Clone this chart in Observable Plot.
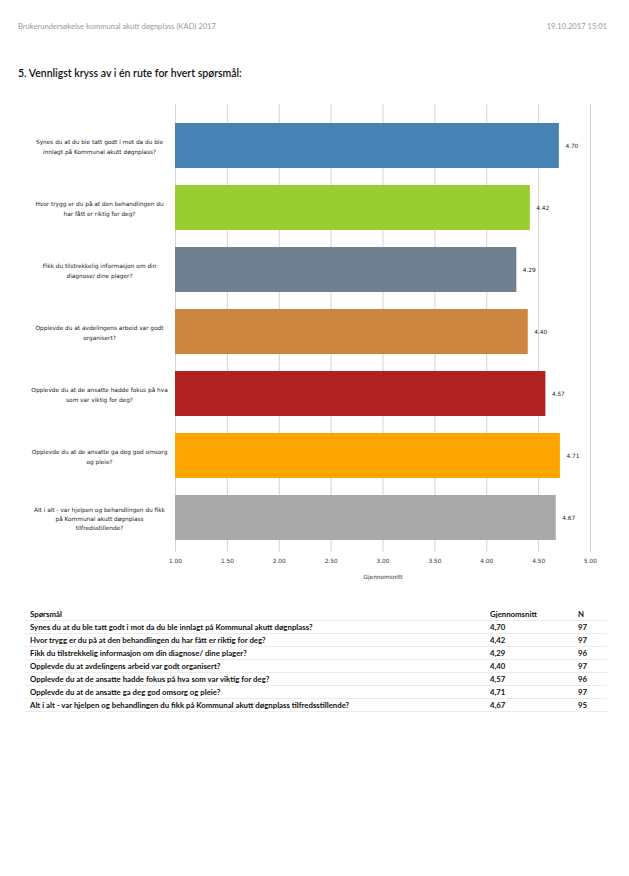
<!DOCTYPE html>
<html>
<head>
<meta charset="utf-8">
<script src="https://cdn.jsdelivr.net/npm/d3@7"></script>
<script src="https://cdn.jsdelivr.net/npm/@observablehq/plot@0.6"></script>
<style>
  html, body { margin: 0; padding: 0; background: #fff; }
  body { width: 629px; height: 876px; position: relative; overflow: hidden; font-family: Lato, "Open Sans", sans-serif; }
  #hdr-left { position: absolute; left: 18px; top: 21px; font-size: 7.6px; color: #9a9a9a; }
  #hdr-right { position: absolute; right: 22px; top: 21px; font-size: 7.6px; color: #9a9a9a; }
  #title { position: absolute; left: 18px; top: 67px; font-size: 10.5px; color: #111; font-weight: 600; }
  #chart { position: absolute; left: 0; top: 100px; }
  #tbl { position: absolute; left: 25px; top: 608px; width: 582px; border-collapse: collapse; font-size: 7.8px; font-weight: 700; color: #111; }
  #tbl td, #tbl th { padding: 0 0 0 5px; height: 12px; line-height: 12px; border-bottom: 1px solid #ececec; text-align: left; font-weight: 700; }
  #tbl td.c2, #tbl th.c2 { width: 88px; }
  #tbl td.c3, #tbl th.c3 { width: 29px; padding-left: 0; }
</style>
</head>
<body>
<div id="hdr-left">Brukerundersøkelse kommunal akutt døgnplass (KAD) 2017</div>
<div id="hdr-right">19.10.2017 15:01</div>
<div id="title">5. Vennligst kryss av i én rute for hvert spørsmål:</div>
<div id="chart"></div>
<table id="tbl"></table>
<script>
const questions = [
  "Synes du at du ble tatt godt i mot da du ble innlagt på Kommunal akutt døgnplass?",
  "Hvor trygg er du på at den behandlingen du har fått er riktig for deg?",
  "Fikk du tilstrekkelig informasjon om din diagnose/ dine plager?",
  "Opplevde du at avdelingens arbeid var godt organisert?",
  "Opplevde du at de ansatte hadde fokus på hva som var viktig for deg?",
  "Opplevde du at de ansatte ga deg god omsorg og pleie?",
  "Alt i alt - var hjelpen og behandlingen du fikk på Kommunal akutt døgnplass tilfredsstillende?"
];
const questionLabels = [
  "Synes du at du ble tatt godt i mot da du ble\ninnlagt på Kommunal akutt døgnplass?",
  "Hvor trygg er du på at den behandlingen du\nhar fått er riktig for deg?",
  "Fikk du tilstrekkelig informasjon om din\ndiagnose/ dine plager?",
  "Opplevde du at avdelingens arbeid var godt\norganisert?",
  "Opplevde du at de ansatte hadde fokus på hva\nsom var viktig for deg?",
  "Opplevde du at de ansatte ga deg god omsorg\nog pleie?",
  "Alt i alt - var hjelpen og behandlingen du fikk\npå Kommunal akutt døgnplass\ntilfredsstillende?"
];
const means = [4.70, 4.42, 4.29, 4.40, 4.57, 4.71, 4.67];
const counts = [97, 97, 96, 97, 96, 97, 95];
const colors = ["#4682B4", "#9ACD32", "#708090", "#CD853F", "#B22222", "#FFA500", "#A9A9A9"];
const xTicks = [1.0, 1.5, 2.0, 2.5, 3.0, 3.5, 4.0, 4.5, 5.0];

const data = questions.map((q, i) => ({q, label: questionLabels[i], mean: means[i], n: counts[i], color: colors[i]}));
const labelOf = new Map(data.map(d => [d.q, d.label]));

const chart = Plot.plot({
  width: 629,
  height: 490,
  marginLeft: 175,
  marginRight: 39,
  marginTop: 11.5,
  marginBottom: 38,
  style: {fontFamily: "'DejaVu Sans', sans-serif", fontSize: "5.8px", color: "#222", background: "#fff"},
  x: {domain: [1, 5]},
  y: {domain: questions, paddingInner: 0.27, paddingOuter: 0.135, axis: null},
  marks: [
    Plot.ruleX(xTicks, {stroke: "#d4d4d4", strokeWidth: 1, insetTop: -8, strokeOpacity: 1}),
    Plot.barX(data, {y: "q", x1: 1, x2: "mean", fill: "color"}),
    Plot.text(data, {y: "q", x: "mean", text: d => d3.format(".2f")(d.mean), textAnchor: "start", dx: 6, fill: "#222"}),
    Plot.text(data, {y: "q", text: d => labelOf.get(d.q), frameAnchor: "left", textAnchor: "middle", dx: -76, lineHeight: 1.6, fill: "#222"}),
    Plot.axisX(xTicks, {tickSize: 0, tickPadding: 6, tickFormat: d3.format(".2f"), label: null, fill: "#333"}),
    Plot.text(["Gjennomsnitt"], {frameAnchor: "bottom", dy: 26, text: d => d, fill: "#333"})
  ]
});
document.getElementById("chart").appendChild(chart);

const tbl = document.getElementById("tbl");
const fmt = v => d3.format(".2f")(v).replace(".", ",");
let html = '<tr><th>Spørsmål</th><th class="c2">Gjennomsnitt</th><th class="c3">N</th></tr>';
data.forEach(d => {
  html += `<tr><td>${d.q}</td><td class="c2">${fmt(d.mean)}</td><td class="c3">${d.n}</td></tr>`;
});
tbl.innerHTML = html;
</script>
</body>
</html>
